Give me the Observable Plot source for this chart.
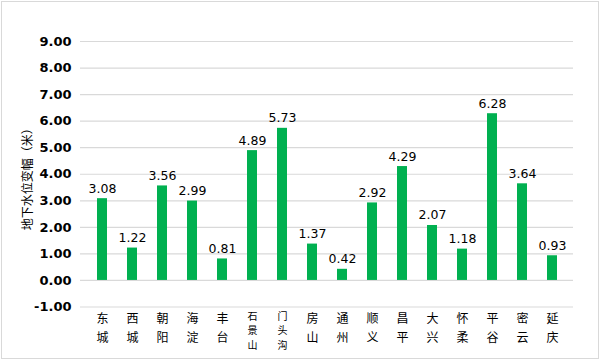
<!DOCTYPE html>
<html>
<head>
<meta charset="utf-8">
<script src="https://cdn.jsdelivr.net/npm/d3@7"></script>
<script src="https://cdn.jsdelivr.net/npm/@observablehq/plot@0.6"></script>
<style>
body { margin: 0; background: #fff; }
#chart svg { display: block; outline: 1px solid #d9d9d9; outline-offset: -2px; }
</style>
</head>
<body>
<div id="chart"></div>
<script>
const districts = ["东城", "西城", "朝阳", "海淀", "丰台", "石景山", "门头沟", "房山", "通州", "顺义", "昌平", "大兴", "怀柔", "平谷", "密云", "延庆"];
const changes = [3.08, 1.22, 3.56, 2.99, 0.81, 4.89, 5.73, 1.37, 0.42, 2.92, 4.29, 2.07, 1.18, 6.28, 3.64, 0.93];
const yTicks = [-1, 0, 1, 2, 3, 4, 5, 6, 7, 8, 9];
const yTitle = "地下水位变幅（米）";

const data = districts.map((d, i) => ({district: d, value: changes[i]}));
// one entry per character of each category label, stacked vertically
const chars = districts.flatMap(d => d.split("").map((ch, i) => ({district: d, ch, i, n: d.length})));
const cjk = "'Noto Sans CJK SC', sans-serif";
const twoOffsets = [15.5, 34.5];
const threeOffsets = [12.5, 27, 41.5];

const charMarks = [];
twoOffsets.forEach((off, i) => charMarks.push(
  Plot.text(chars.filter(c => c.n <= 2 && c.i === i), {x: "district", text: "ch", frameAnchor: "bottom", dy: off, fontSize: 12, fill: "#000", fontFamily: cjk})
));
threeOffsets.forEach((off, i) => charMarks.push(
  Plot.text(chars.filter(c => c.n > 2 && c.i === i), {x: "district", text: "ch", frameAnchor: "bottom", dy: off, fontSize: 10, fill: "#000", fontFamily: cjk})
));

const chart = Plot.plot({
  width: 600,
  height: 360,
  marginLeft: 80,
  marginRight: 27,
  marginTop: 41,
  marginBottom: 53.5,
  style: {fontFamily: "'DejaVu Sans', 'Noto Sans CJK SC', sans-serif", background: "#fff"},
  x: {domain: districts, paddingInner: 0.67, paddingOuter: 0.335, axis: null},
  y: {domain: [-1, 9], axis: null},
  marks: [
    Plot.gridY(yTicks, {stroke: "#d9d9d9", strokeOpacity: 1, strokeWidth: 1.2}),
    Plot.axisY(yTicks, {tickSize: 0, tickPadding: 9, tickFormat: d => d.toFixed(2), fontSize: 13, fontWeight: "bold", fill: "#000", label: null}),
    Plot.barY(data, {x: "district", y: "value", fill: "#00b050"}),
    Plot.text(data, {x: "district", y: "value", text: d => d.value.toFixed(2), lineAnchor: "bottom", dy: -6, fontSize: 12.5, fill: "#000"}),
    ...charMarks,
    Plot.text([yTitle], {text: d => d, frameAnchor: "left", textAnchor: "middle", dx: -52, dy: 2, rotate: -90, fontSize: 12, fill: "#000", fontFamily: cjk})
  ]
});
document.getElementById("chart").appendChild(chart);
</script>
</body>
</html>
